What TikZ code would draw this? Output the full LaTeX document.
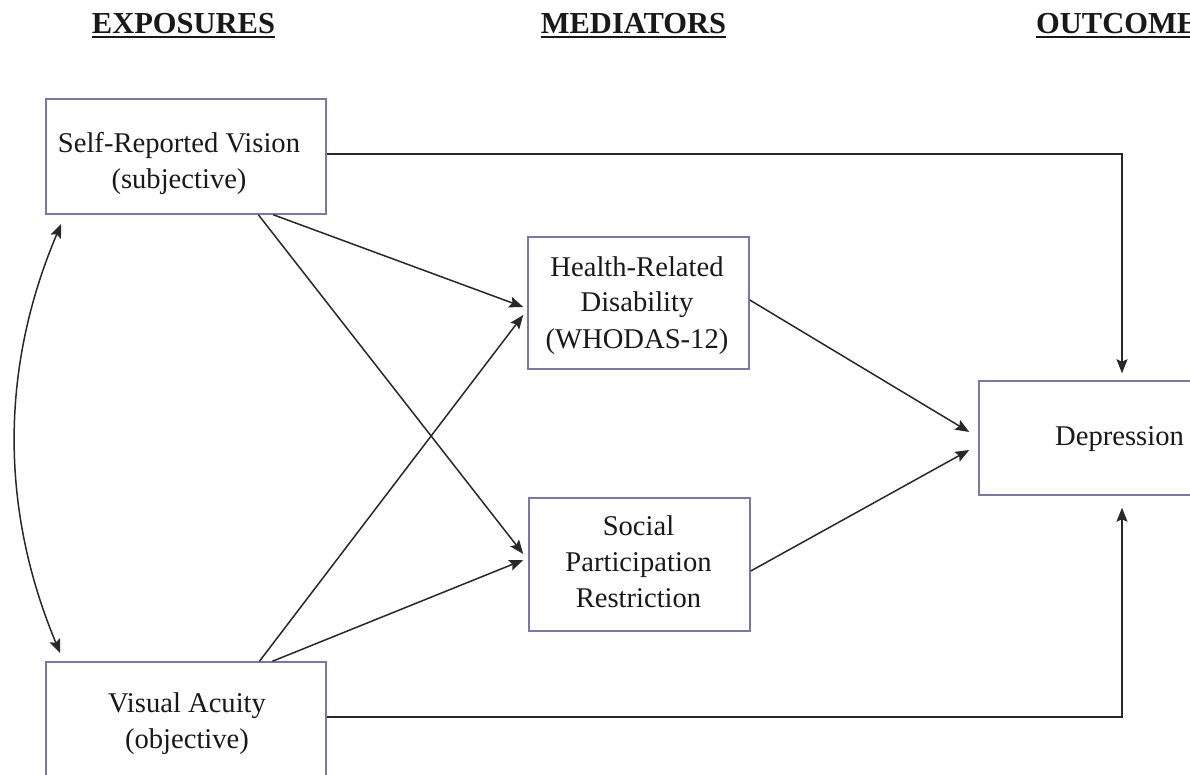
\documentclass[tikz,border=0pt]{standalone}
\usepackage{fontspec}
\setmainfont{Liberation Serif}
\usetikzlibrary{arrows.meta,calc}
\definecolor{boxcol}{RGB}{120,120,175}
\definecolor{linecol}{RGB}{40,40,40}
\definecolor{txtcol}{RGB}{25,25,25}
\tikzset{
  box/.style={draw=boxcol, line width=1.5pt, inner sep=0pt},
  lbl/.style={align=center, inner sep=0pt, text=txtcol, font=\fontsize{28.6}{36}\selectfont, anchor=base},
  head/.style={inner sep=0pt, text=txtcol, font=\fontsize{30.5}{36}\selectfont\bfseries, anchor=base},
  ul/.style={draw=txtcol, line width=1.8pt},
  tip/.tip={Stealth[length=14pt,width=11pt,inset=2.5pt]},
  arr/.style={draw=linecol, line width=1.5pt, -tip},
  darr/.style={draw=linecol, line width=1.5pt, tip-tip},
}
\begin{document}
\begin{tikzpicture}[x=1pt,y=-1pt]
\useasboundingbox (0,0) rectangle (1190,775);
\clip (0,0) rectangle (1190,775);
\fill[white] (0,0) rectangle (1190,775);

% headings
\node[head] (h1) at (183.5,34) {EXPOSURES};
\node[head] (h2) at (633.5,34) {MEDIATORS};
\node[head, anchor=base west] (h3) at (1036,34) {OUTCOMES};
\foreach \h in {h1,h2,h3}
  \draw[ul] ([yshift=-3.2pt]\h.base west) -- ([yshift=-3.2pt]\h.base east);

% boxes
\node[box, minimum width=280pt, minimum height=115pt] (srv) at (186,156.5) {};
\node[box, minimum width=280pt, minimum height=115pt] (va) at (186,719.5) {};
\node[box, minimum width=221pt, minimum height=132pt] (hrd) at (638.5,303) {};
\node[box, minimum width=221pt, minimum height=133pt] (spr) at (639.5,564.5) {};
\node[box, minimum width=286pt, minimum height=114pt] (dep) at (1122,438) {};

% labels (base anchor = baseline of last line)
\node[lbl] (tsrv) at (179,189) {Self-Reported Vision\\(subjective)};
\node[lbl] (tva) at (187,748) {Visual Acuity\\(objective)};
\node[lbl] (thrd) at (637,348) {Health-Related\\Disability\\(WHODAS-12)};
\node[lbl] (tspr) at (638.5,607) {Social\\Participation\\Restriction};
\node[lbl] (tdep) at (1119.5,445) {Depression};

% connectors
\draw[arr] ([yshift=2.5pt]srv.east) -| ([yshift=7pt]dep.north);
\draw[arr] ([yshift=2.5pt]va.east) -| ([yshift=-12pt]dep.south);
\draw[arr] ($(srv.south west)!0.81!(srv.south east)$) -- ([xshift=-4pt,yshift=-4pt]hrd.west);
\draw[arr] ($(srv.south west)!0.757!(srv.south east)$) -- ([xshift=-5pt,yshift=10.5pt]spr.west);
\draw[arr] ($(va.north west)!0.761!(va.north east)$) -- ([xshift=-4pt,yshift=-12pt]hrd.west);
\draw[arr] ($(va.north west)!0.807!(va.north east)$) -- ([xshift=-5pt,yshift=4.5pt]spr.west);
\draw[arr] ([yshift=3pt]hrd.east) -- ([xshift=-9pt,yshift=6pt]dep.west);
\draw[arr] ([yshift=-6.5pt]spr.east) -- ([xshift=-9pt,yshift=-12pt]dep.west);
\draw[darr] ([xshift=16pt,yshift=-9pt]srv.south west) .. controls (0,368) and (0,509) .. ([xshift=15pt,yshift=8pt]va.north west);
\end{tikzpicture}
\end{document}
